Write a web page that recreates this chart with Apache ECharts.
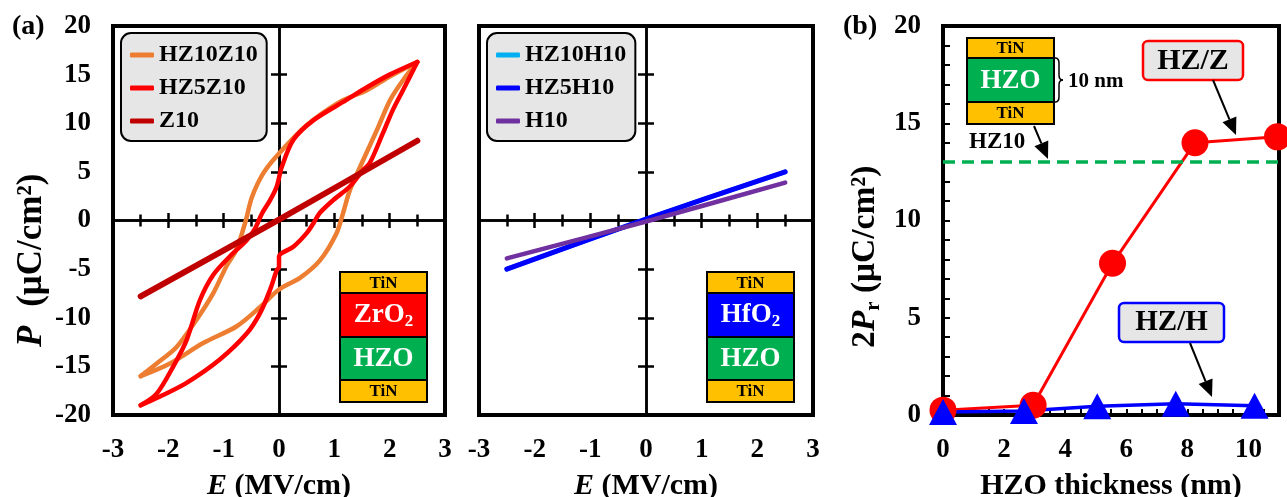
<!DOCTYPE html>
<html><head><meta charset="utf-8">
<script src="https://cdn.jsdelivr.net/npm/echarts@6/dist/echarts.min.js"></script>
<style>html,body{margin:0;padding:0;background:#fff}#c{width:1287px;height:497px}</style>
</head><body><div id="c"></div>
<script>
const FONT = '"Liberation Serif","Times New Roman",serif';

// ---- Panel (a), left: P-E loops (E in MV/cm, P in uC/cm2) ----
const hz10z10Up = [[2.5,16.3],[2.0,14.8],[1.59,13.4],[1.1,12.2],[0.5,9.8],[0,6.9],[-0.28,4.9],[-0.49,2.4],[-0.6,0],[-0.77,-3.0],[-0.95,-4.7],[-1.19,-7.5],[-1.49,-10.2],[-1.85,-13.0],[-2.21,-14.7],[-2.5,-16.0]];
const hz10z10Down = [[-2.5,-16.0],[-1.97,-14.7],[-1.37,-12.6],[-0.77,-10.9],[-0.34,-8.9],[0,-7.1],[0.38,-5.9],[0.74,-4.1],[1.04,-1.3],[1.16,0.8],[1.28,3.1],[1.52,6.2],[1.77,9.3],[2.01,12.4],[2.25,14.5],[2.5,16.3]];
const hz5z10Up = [[2.5,16.3],[2.0,15.0],[1.59,13.7],[1.22,12.4],[0.62,10.3],[0.26,8.3],[0.05,5.5],[-0.04,3.5],[-0.16,2.1],[-0.31,0.7],[-0.43,-0.8],[-0.58,-2.0],[-0.89,-3.7],[-1.19,-5.6],[-1.43,-8.2],[-1.67,-12.3],[-1.91,-15.0],[-2.21,-17.8],[-2.5,-19.0]];
const hz5z10Down = [[-2.5,-19.0],[-2.15,-18.1],[-1.67,-16.7],[-1.07,-14.3],[-0.58,-11.6],[-0.34,-9.5],[-0.16,-7.1],[-0.04,-5.1],[0,-4.8],[0,-3.7],[0.26,-2.7],[0.5,-1.3],[0.62,-0.3],[0.74,0.8],[0.98,2.1],[1.28,3.5],[1.52,5.2],[1.64,5.9],[1.88,9.0],[2.06,11.4],[2.25,13.5],[2.5,16.3]];
const z10 = [[-2.5,-7.8],[0,0.1],[2.5,8.2]];

// ---- Panel (a), middle ----
const hz10h10 = [[-2.5,-5.0],[0,0.15],[2.5,5.0]];
const hz5h10 = [[-2.5,-5.0],[0,0.15],[2.5,5.0]];
const h10 = [[-2.5,-3.9],[0,-0.1],[2.5,3.9]];

// ---- Panel (b) ----
const thickZ = [0, 2.95, 5.55, 8.25, 10.95];
const prZ = [0.25, 0.5, 7.8, 14.0, 14.3];
const thickH = [0, 2.65, 5.05, 7.62, 10.2];
const prH = [0.15, 0.2, 0.45, 0.58, 0.48];
const prHZ10 = 13;

const eLabels = { min: -3, max: 3, step: 1 };
const pLabels = { min: -20, max: 20, step: 5 };

const lblStyle = { fontSize: 27, fontWeight: 'bold', fontFamily: FONT, color: '#000' };
const blk = { color: '#000', width: 2.5 };

function labelX(g) {
  return { gridIndex: g, type: 'value', min: eLabels.min, max: eLabels.max, interval: eLabels.step, position: 'bottom',
    axisLine: { show: false, onZero: false }, axisTick: { show: false }, splitLine: { show: false },
    axisLabel: Object.assign({ margin: 22 }, lblStyle),
    name: '{i|E}{n| (MV/cm)}', nameLocation: 'middle', nameGap: 56,
    nameTextStyle: { rich: {
      i: { fontStyle: 'italic', fontWeight: 'bold', fontSize: 30, fontFamily: FONT, color: '#000' },
      n: { fontWeight: 'bold', fontSize: 30, fontFamily: FONT, color: '#000' } } } };
}
function centerX(g, inside) {
  return { gridIndex: g, type: 'value', min: eLabels.min, max: eLabels.max, interval: 1, position: 'bottom',
    axisLine: { show: true, onZero: true, lineStyle: blk },
    axisTick: { show: true, inside: inside, length: 7.5, lineStyle: blk },
    minorTick: { show: true, splitNumber: 2, length: 6, lineStyle: blk },
    axisLabel: { show: false }, splitLine: { show: false }, minorSplitLine: { show: false } };
}
function labelY(g, show) {
  return { gridIndex: g, type: 'value', min: pLabels.min, max: pLabels.max, interval: pLabels.step, position: 'left',
    axisLine: { show: false, onZero: false }, axisTick: { show: false }, splitLine: { show: false },
    axisLabel: Object.assign({ show: show, margin: 22 }, lblStyle) };
}
function centerY(g, inside) {
  return { gridIndex: g, type: 'value', min: pLabels.min, max: pLabels.max, interval: pLabels.step, position: 'left',
    axisLine: { show: true, onZero: true, lineStyle: blk },
    axisTick: { show: true, inside: inside, length: 8, lineStyle: blk },
    axisLabel: { show: false }, splitLine: { show: false } };
}

const xAxes = [labelX(0), centerX(0, true), centerX(0, false), labelX(1), centerX(1, true), centerX(1, false),
  { gridIndex: 2, type: 'value', min: 0, max: 11, interval: 1, position: 'bottom',
    axisLine: { show: false, onZero: false },
    axisTick: { show: true, inside: true, length: 6, lineStyle: { color: '#000', width: 2 } },
    minorTick: { show: true, splitNumber: 2, length: 6, lineStyle: { color: '#000', width: 2 } },
    splitLine: { show: false },
    axisLabel: Object.assign({ margin: 22, formatter: v => (v % 2 === 0 ? String(v) : '') }, lblStyle),
    name: 'HZO thickness (nm)', nameLocation: 'middle', nameGap: 56,
    nameTextStyle: { fontWeight: 'bold', fontSize: 30, fontFamily: FONT, color: '#000' } }];
const yAxes = [labelY(0, true), centerY(0, true), centerY(0, false), labelY(1, false), centerY(1, true), centerY(1, false),
  { gridIndex: 2, type: 'value', min: 0, max: 20, interval: 5, position: 'left',
    axisLine: { show: false, onZero: false },
    axisTick: { show: true, inside: true, length: 7, lineStyle: { color: '#000', width: 2 } },
    minorTick: { show: true, splitNumber: 5, length: 7, lineStyle: { color: '#000', width: 2 } },
    splitLine: { show: false },
    axisLabel: Object.assign({ margin: 22 }, lblStyle) }];

function loop(name, data, color, width, xi) {
  return { type: 'line', name: name, xAxisIndex: xi, yAxisIndex: xi, data: data, smooth: 0.3,
    showSymbol: false, symbol: 'none', lineStyle: { color: color, width: width, cap: 'round', join: 'round' },
    itemStyle: { color: color }, silent: true, animation: false };
}

const series = [
  loop('HZ10Z10', hz10z10Up, '#ED7D31', 4.5, 0),
  loop('HZ10Z10', hz10z10Down, '#ED7D31', 4.5, 0),
  loop('HZ5Z10', hz5z10Up, '#FF0000', 4.5, 0),
  loop('HZ5Z10', hz5z10Down, '#FF0000', 4.5, 0),
  loop('Z10', z10, '#C00000', 6, 0),
  loop('HZ10H10', hz10h10, '#00B0F0', 4.5, 3),
  loop('HZ5H10', hz5h10, '#0000FF', 5, 3),
  loop('H10', h10, '#7030A0', 4.5, 3),
  { type: 'line', name: 'HZ/Z', xAxisIndex: 6, yAxisIndex: 6, data: thickZ.map((t, i) => [t, prZ[i]]),
    symbol: 'circle', symbolSize: 27, clip: false, animation: false,
    lineStyle: { color: '#FF0000', width: 3 }, itemStyle: { color: '#FF0000' },
    markLine: { silent: true, symbol: 'none', label: { show: false }, animation: false,
      lineStyle: { color: '#00B050', width: 3.5, type: [12, 7] }, data: [{ yAxis: prHZ10 }] } },
  { type: 'line', name: 'HZ/H', xAxisIndex: 6, yAxisIndex: 6, data: thickH.map((t, i) => [t, prH[i]]),
    symbol: 'triangle', symbolSize: [28, 26], clip: false, animation: false,
    lineStyle: { color: '#0000FF', width: 3.5 }, itemStyle: { color: '#0000FF' } }
];

function legend(left, names) {
  return { data: names, orient: 'vertical', left: left, top: 33, selectedMode: false,
    backgroundColor: '#e6e6e6', borderColor: '#000', borderWidth: 2, borderRadius: 10,
    padding: [10, 9, 8, 9], itemGap: 9, itemWidth: 24, itemHeight: 5, icon: 'roundRect',
    textStyle: { fontSize: 24, fontWeight: 'bold', fontFamily: FONT, color: '#000', lineHeight: 24 } };
}

// ---- decorations (layer stacks, labels, arrows) ----
const g = [];
function txt(x, y, text, size, color, align, rich) {
  g.push({ type: 'text', z: 100, style: { x: x, y: y, text: text, rich: rich,
    font: 'bold ' + size + 'px ' + FONT, fill: color, align: align || 'center', verticalAlign: 'middle',
    textAlign: align || 'center', textVerticalAlign: 'middle' } });
}
function rect(x, y, w, h, fill, stroke, lw, r) {
  g.push({ type: 'rect', z: 99, shape: { x: x, y: y, width: w, height: h, r: r || 0 },
    style: { fill: fill, stroke: stroke, lineWidth: lw } });
}
const subRich = (size, col) => ({ m: { fontSize: size, fontWeight: 'bold', fontFamily: FONT, color: col, lineHeight: 30 },
  s: { fontSize: 17, fontWeight: 'bold', fontFamily: FONT, color: col, lineHeight: 14, verticalAlign: 'bottom' } });
function stack(x, layers) {
  layers.forEach(L => {
    rect(x, L[0], 87, L[1] - L[0], L[2], '#000', 2);
    const cy = (L[0] + L[1]) / 2;
    if (L[3] === 'TiN') txt(x + 43.5, cy + 1, 'TiN', 17, '#000');
    else if (L[4]) txt(x + 43.5, cy, '{m|' + L[3] + '}{s|2}', 27, '#fff', 'center', subRich(27, '#fff'));
    else txt(x + 43.5, cy + 1, L[3], 27, '#fff');
  });
}
stack(340, [[272, 293, '#FFC000', 'TiN'], [293, 337, '#FF0000', 'ZrO', true], [337, 380, '#00B050', 'HZO'], [380, 402, '#FFC000', 'TiN']]);
stack(707, [[272, 293, '#FFC000', 'TiN'], [293, 337, '#0000FF', 'HfO', true], [337, 380, '#00B050', 'HZO'], [380, 402, '#FFC000', 'TiN']]);
stack(967, [[38, 58, '#FFC000', 'TiN'], [58, 102, '#00B050', 'HZO'], [102, 124, '#FFC000', 'TiN']]);

// curly brace
function bz(x1, y1, cx, cy, x2, y2) {
  g.push({ type: 'bezierCurve', z: 100, shape: { x1: x1, y1: y1, cpx1: cx, cpy1: cy, x2: x2, y2: y2 },
    style: { fill: null, stroke: '#000', lineWidth: 1.5 } });
}
function ln(x1, y1, x2, y2, w) {
  g.push({ type: 'line', z: 100, shape: { x1: x1, y1: y1, x2: x2, y2: y2 }, style: { stroke: '#000', lineWidth: w } });
}
bz(1055, 58, 1059, 58, 1059, 63); ln(1059, 63, 1059, 75, 1.5); bz(1059, 75, 1059, 80, 1063, 80);
bz(1063, 80, 1059, 80, 1059, 85); ln(1059, 85, 1059, 97, 1.5); bz(1059, 97, 1059, 102, 1055, 102);
txt(1068, 82, '10 nm', 21, '#000', 'left');
txt(969, 142, 'HZ10', 23, '#000', 'left');

function arrow(x1, y1, x2, y2) {
  const dx = x2 - x1, dy = y2 - y1, L = Math.hypot(dx, dy), ux = dx / L, uy = dy / L;
  const hl = 17, hw = 7.5, bx = x2 - ux * hl, by = y2 - uy * hl;
  ln(x1, y1, bx, by, 2);
  g.push({ type: 'polygon', z: 100, shape: { points: [[x2, y2], [bx - uy * hw, by + ux * hw], [bx + uy * hw, by - ux * hw]] }, style: { fill: '#000' } });
}
arrow(1034, 126, 1048, 159);
arrow(1213, 80, 1236, 135);
arrow(1190, 343, 1212, 397);

rect(1143, 41, 100, 39, '#e6e6e6', '#FF0000', 2.5, 5);
txt(1193, 61, 'HZ/Z', 30, '#000');
rect(1119, 303, 105, 39, '#e6e6e6', '#0000FF', 2.5, 5);
txt(1171.5, 323, 'HZ/H', 29, '#000');

txt(12, 27, '(a)', 28, '#000', 'left');
txt(843, 27, '(b)', 28, '#000', 'left');

function yRich(size, pad) {
  return { n: { fontWeight: 'bold', fontSize: size, fontFamily: FONT, color: '#000', lineHeight: size + 4 },
    i: { fontWeight: 'bold', fontStyle: 'italic', fontSize: size, fontFamily: FONT, color: '#000', lineHeight: size + 4, padding: [0, pad, 0, 0] },
    s: { fontWeight: 'bold', fontSize: Math.round(size * 0.62), fontFamily: FONT, color: '#000', lineHeight: Math.round(size * 0.55), verticalAlign: 'bottom' } };
}
g.push({ type: 'text', z: 100, x: 32, y: 347, rotation: Math.PI / 2,
  style: { x: 0, y: 0, text: '{i|P}{n| (μC/cm²)}', rich: yRich(35, 10), align: 'left', verticalAlign: 'middle', textAlign: 'left', textVerticalAlign: 'middle' } });
g.push({ type: 'text', z: 100, x: 865, y: 348, rotation: Math.PI / 2,
  style: { x: 0, y: 0, text: '{n|2}{i|P}{s|r}{n| (μC/cm²)}', rich: yRich(33.5, 0), align: 'left', verticalAlign: 'middle', textAlign: 'left', textVerticalAlign: 'middle' } });

const gridBase = { top: 26, height: 389, show: true, borderColor: '#000', borderWidth: 4, backgroundColor: 'transparent', containLabel: false, outerBoundsMode: 'none' };
const chart = echarts.init(document.getElementById('c'), null, { renderer: 'canvas' });
chart.setOption({
  animation: false,
  backgroundColor: '#fff',
  textStyle: { fontFamily: FONT, fontWeight: 'bold', color: '#000' },
  grid: [
    Object.assign({ left: 113, width: 332 }, gridBase),
    Object.assign({ left: 479, width: 334 }, gridBase),
    Object.assign({ left: 943, width: 336 }, gridBase)
  ],
  xAxis: xAxes,
  yAxis: yAxes,
  legend: [legend(121, ['HZ10Z10', 'HZ5Z10', 'Z10']), legend(487, ['HZ10H10', 'HZ5H10', 'H10'])],
  series: series,
  graphic: g
});
</script></body></html>
